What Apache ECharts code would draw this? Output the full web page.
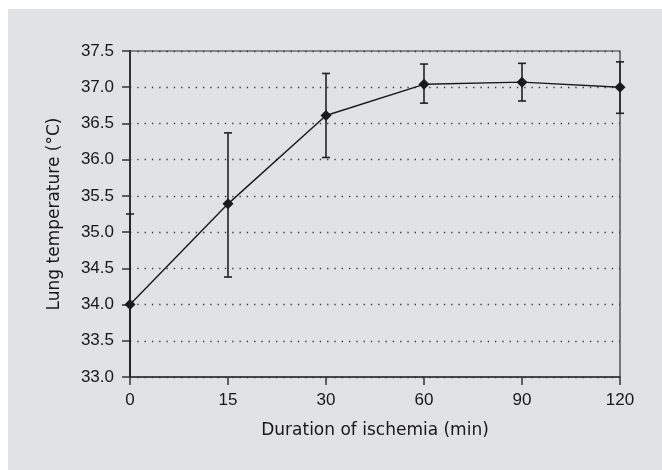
<!DOCTYPE html>
<html>
<head>
<meta charset="utf-8">
<script src="https://cdn.jsdelivr.net/npm/echarts@6/dist/echarts.min.js"></script>
<style>
html,body{margin:0;padding:0;background:#ffffff;}
#chart{width:662px;height:470px;}
</style>
</head>
<body>
<div id="chart"></div>
<script>
// Data
const categories = ['0', '15', '30', '60', '90', '120'];
const meanTemp = [34.0, 35.39, 36.61, 37.04, 37.07, 37.0];
const upperTemp = [35.25, 36.37, 37.19, 37.32, 37.33, 37.35];
const lowerTemp = [32.75, 34.38, 36.03, 36.78, 36.81, 36.64];
const yTicks = [33.0, 33.5, 34.0, 34.5, 35.0, 35.5, 36.0, 36.5, 37.0, 37.5];

const chart = echarts.init(document.getElementById('chart'), null, {renderer: 'canvas'});
const ink = '#1a1718';
const errData = categories.map((c, i) => [i, lowerTemp[i], upperTemp[i]]);

const option = {
  animation: false,
  backgroundColor: 'transparent',
  graphic: [{
    type: 'rect', z: -10, silent: true,
    shape: {x: 8, y: 9, width: 654, height: 461},
    style: {fill: '#e1e2e4'}
  }],
  grid: {
    left: 130, right: 42, top: 51, bottom: 93,
    show: true, borderColor: '#333', borderWidth: 1.2, backgroundColor: 'transparent'
  },
  xAxis: {
    type: 'category',
    data: categories,
    boundaryGap: false,
    name: 'Duration of ischemia (min)',
    nameLocation: 'middle',
    nameGap: 45,
    nameTextStyle: {fontFamily: 'DejaVu Sans', fontSize: 17, color: ink},
    axisLine: {lineStyle: {color: '#333', width: 1.5}},
    axisTick: {show: true, length: 8, lineStyle: {color: '#333', width: 1.5}},
    axisLabel: {fontFamily: 'Liberation Sans', fontSize: 17, color: ink, margin: 15},
    splitLine: {show: false}
  },
  yAxis: {
    type: 'value',
    min: yTicks[0],
    max: yTicks[yTicks.length - 1],
    interval: 0.5,
    name: 'Lung temperature (°C)',
    nameLocation: 'middle',
    nameGap: 67,
    nameTextStyle: {fontFamily: 'DejaVu Sans', fontSize: 17, color: ink},
    axisLine: {show: true, lineStyle: {color: '#333', width: 2}},
    axisTick: {show: true, length: 8, lineStyle: {color: '#333', width: 1.5}},
    axisLabel: {fontFamily: 'Liberation Sans', fontSize: 17, color: ink, margin: 16,
      formatter: v => v.toFixed(1)},
    splitLine: {show: true, lineStyle: {color: '#333', width: 1.3, type: [1.3, 6]}}
  },
  series: [
    {
      type: 'custom',
      clip: false,
      z: 3,
      data: errData,
      renderItem: function (params, api) {
        const i = api.value(0);
        const cs = params.coordSys;
        const bottom = cs.y + cs.height;
        const lo = api.coord([i, api.value(1)]);
        const hi = api.coord([i, api.value(2)]);
        const loClamped = lo[1] > bottom;
        const loY = loClamped ? bottom : lo[1];
        const w = 4;
        const st = {stroke: '#222', lineWidth: 1.6, fill: null};
        const children = [
          {type: 'line', shape: {x1: hi[0], y1: hi[1], x2: lo[0], y2: loY}, style: st},
          {type: 'line', shape: {x1: hi[0] - w, y1: hi[1], x2: hi[0] + w, y2: hi[1]}, style: st}
        ];
        if (!loClamped) {
          children.push({type: 'line', shape: {x1: lo[0] - w, y1: lo[1], x2: lo[0] + w, y2: lo[1]}, style: st});
        }
        return {type: 'group', children: children};
      }
    },
    {
      type: 'line',
      data: meanTemp,
      z: 5,
      symbol: 'diamond',
      symbolSize: 11,
      itemStyle: {color: '#1a1a1a'},
      lineStyle: {color: '#1a1a1a', width: 1.4}
    }
  ]
};
chart.setOption(option);
</script>
</body>
</html>
